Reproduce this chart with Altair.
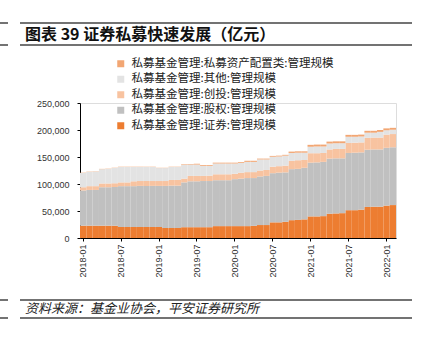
import altair as alt
import pandas as pd

months = [f"{y}-{m:02d}" for y in range(2018, 2023) for m in range(1, 13)][:50]

securities = [22800, 22800, 22800, 22800, 22800, 22800, 20400, 20400, 20400, 20400,
              20400, 20400, 20400, 18500, 18500, 18500, 20000, 20000, 20000, 20000,
              20000, 22000, 22000, 22000, 22000, 22000, 22000, 22500, 24000, 24000,
              29000, 29000, 30000, 33000, 33500, 34500, 40000, 40000, 40500, 45000,
              45500, 46000, 51500, 51500, 52500, 57500, 58000, 58000, 60000, 61000]
equity = [65200, 66200, 66200, 71200, 71200, 71700, 75600, 75600, 75600, 76100,
          76100, 76100, 76100, 78000, 78500, 78500, 83000, 85000, 85000, 85500,
          85500, 85000, 85000, 85000, 87000, 88000, 89000, 88500, 90000, 91000,
          91000, 92000, 91500, 94500, 94500, 95500, 99500, 100000, 100500, 102000,
          102000, 101500, 106000, 106500, 106000, 106000, 106000, 106000, 107000, 107000]
venture = [6000, 7000, 7000, 7000, 7000, 7000, 7000, 7000, 9000, 9000,
           9000, 9000, 9000, 9000, 10500, 10500, 7000, 10000, 10000, 9500,
           10000, 11000, 11000, 11000, 10000, 11000, 11000, 11000, 11000, 11000,
           12000, 12000, 12500, 15500, 16000, 14500, 17500, 17000, 16500, 17000,
           17500, 17500, 18500, 18500, 18500, 22000, 22000, 22000, 24500, 24500]
other = [26500, 26500, 27000, 26500, 27000, 28000, 28500, 28500, 26500, 26000,
         26000, 26000, 24000, 24000, 24000, 24000, 25500, 21000, 21000, 18500,
         18000, 20000, 20000, 20000, 19000, 18000, 19000, 19000, 20500, 19500,
         18500, 18000, 18500, 14500, 14000, 13500, 12000, 12500, 12000, 11000,
         10500, 10500, 11500, 11000, 11000, 9500, 9000, 10500, 8000, 8000]
allocation = [500, 500, 500, 500, 500, 500, 500, 500, 500, 500,
              500, 500, 500, 500, 500, 500, 1000, 1000, 1500, 1500,
              1500, 1500, 1500, 1500, 1500, 1500, 2000, 2000, 1500, 1500,
              1500, 1500, 1500, 2500, 2500, 2500, 3500, 3500, 3500, 3500,
              3500, 3500, 3500, 3500, 3500, 3500, 3500, 3500, 3500, 3500]

names = ["私募基金管理:证券:管理规模", "私募基金管理:股权:管理规模",
         "私募基金管理:创投:管理规模", "私募基金管理:其他:管理规模",
         "私募基金管理:私募资产配置类:管理规模"]
series = [securities, equity, venture, other, allocation]
colors = ["#ED7D31", "#C0C0C0", "#F8C3A0", "#E3E3E3", "#F2A673"]

rows = []
for k, (nm, vals) in enumerate(zip(names, series)):
    for m, v in zip(months, vals):
        rows.append({"month": m, "series": nm, "value": v, "ord": k})
df = pd.DataFrame(rows)

tick_months = months[::6]
font = "Noto Sans CJK SC"
W, H = 316, 135
L, T = 80, 103

bars = alt.Chart(df).mark_bar(stroke=None).encode(
    x=alt.X("month:O", sort=months, title=None,
            scale=alt.Scale(paddingInner=0, paddingOuter=0),
            axis=alt.Axis(values=tick_months, labelAngle=270, labelFontSize=9,
                          labelFont="Liberation Sans", labelColor="#333333",
                          domainColor="#000000", domainWidth=1, tickColor="#000000",
                          tickSize=3, labelPadding=3)),
    y=alt.Y("value:Q", stack="zero", title=None,
            scale=alt.Scale(domain=[0, 250000], nice=False),
            axis=alt.Axis(values=[0, 50000, 100000, 150000, 200000, 250000],
                          format=",.0f", labelFontSize=9, labelFont="Liberation Sans",
                          labelColor="#333333", domainColor="#000000", domainWidth=1,
                          tickColor="#000000", tickSize=3, grid=False, labelPadding=8)),
    color=alt.Color("series:N",
                    scale=alt.Scale(domain=names[::-1], range=colors[::-1]),
                    legend=alt.Legend(title=None, orient="none", legendX=35, legendY=-45,
                                      symbolType="square", symbolSize=49,
                                      symbolStrokeWidth=0, labelFontSize=11.5,
                                      labelFont=font, labelColor="#222222",
                                      rowPadding=2.5, labelOffset=5, padding=0,
                                      labelLimit=400)),
    order=alt.Order("ord:Q", sort="ascending"),
)

deco = pd.DataFrame({"d": [0]})
def hrule(y, x1, x2, color="#444444", w=1.5):
    return alt.Chart(deco).mark_rule(color=color, strokeWidth=w).encode(
        x=alt.value(x1 - L), x2=alt.value(x2 - L), y=alt.value(y - T))

rules = (hrule(23, 20, 412) + hrule(45, 20, 412) + hrule(23, 0, 8) + hrule(45, 0, 8)
         + hrule(300, 20, 412) + hrule(318, 20, 412) + hrule(300, 0, 8) + hrule(318, 0, 8))

title = alt.Chart(pd.DataFrame({"t": ["图表 39  证券私募快速发展（亿元）"]})).mark_text(
    align="left", baseline="middle", fontSize=16, fontWeight="bold", font=font,
    color="#111111").encode(x=alt.value(25 - L), y=alt.value(35 - T), text="t:N")

source = alt.Chart(pd.DataFrame({"t": ["资料来源：基金业协会，平安证券研究所"]})).mark_text(
    align="left", baseline="middle", fontSize=13, fontStyle="italic", font=font,
    color="#222222").encode(x=alt.value(25 - L), y=alt.value(309 - T), text="t:N")

chart = alt.layer(bars, rules, title, source).properties(
    width=W, height=H,
    autosize=alt.AutoSizeParams(type="none"),
    padding={"left": L, "top": T, "right": 422 - L - W, "bottom": 343 - T - H},
).configure_view(stroke=None).configure(background="#ffffff")

chart.save("out.html", embed_options={"renderer": "svg", "actions": False})
